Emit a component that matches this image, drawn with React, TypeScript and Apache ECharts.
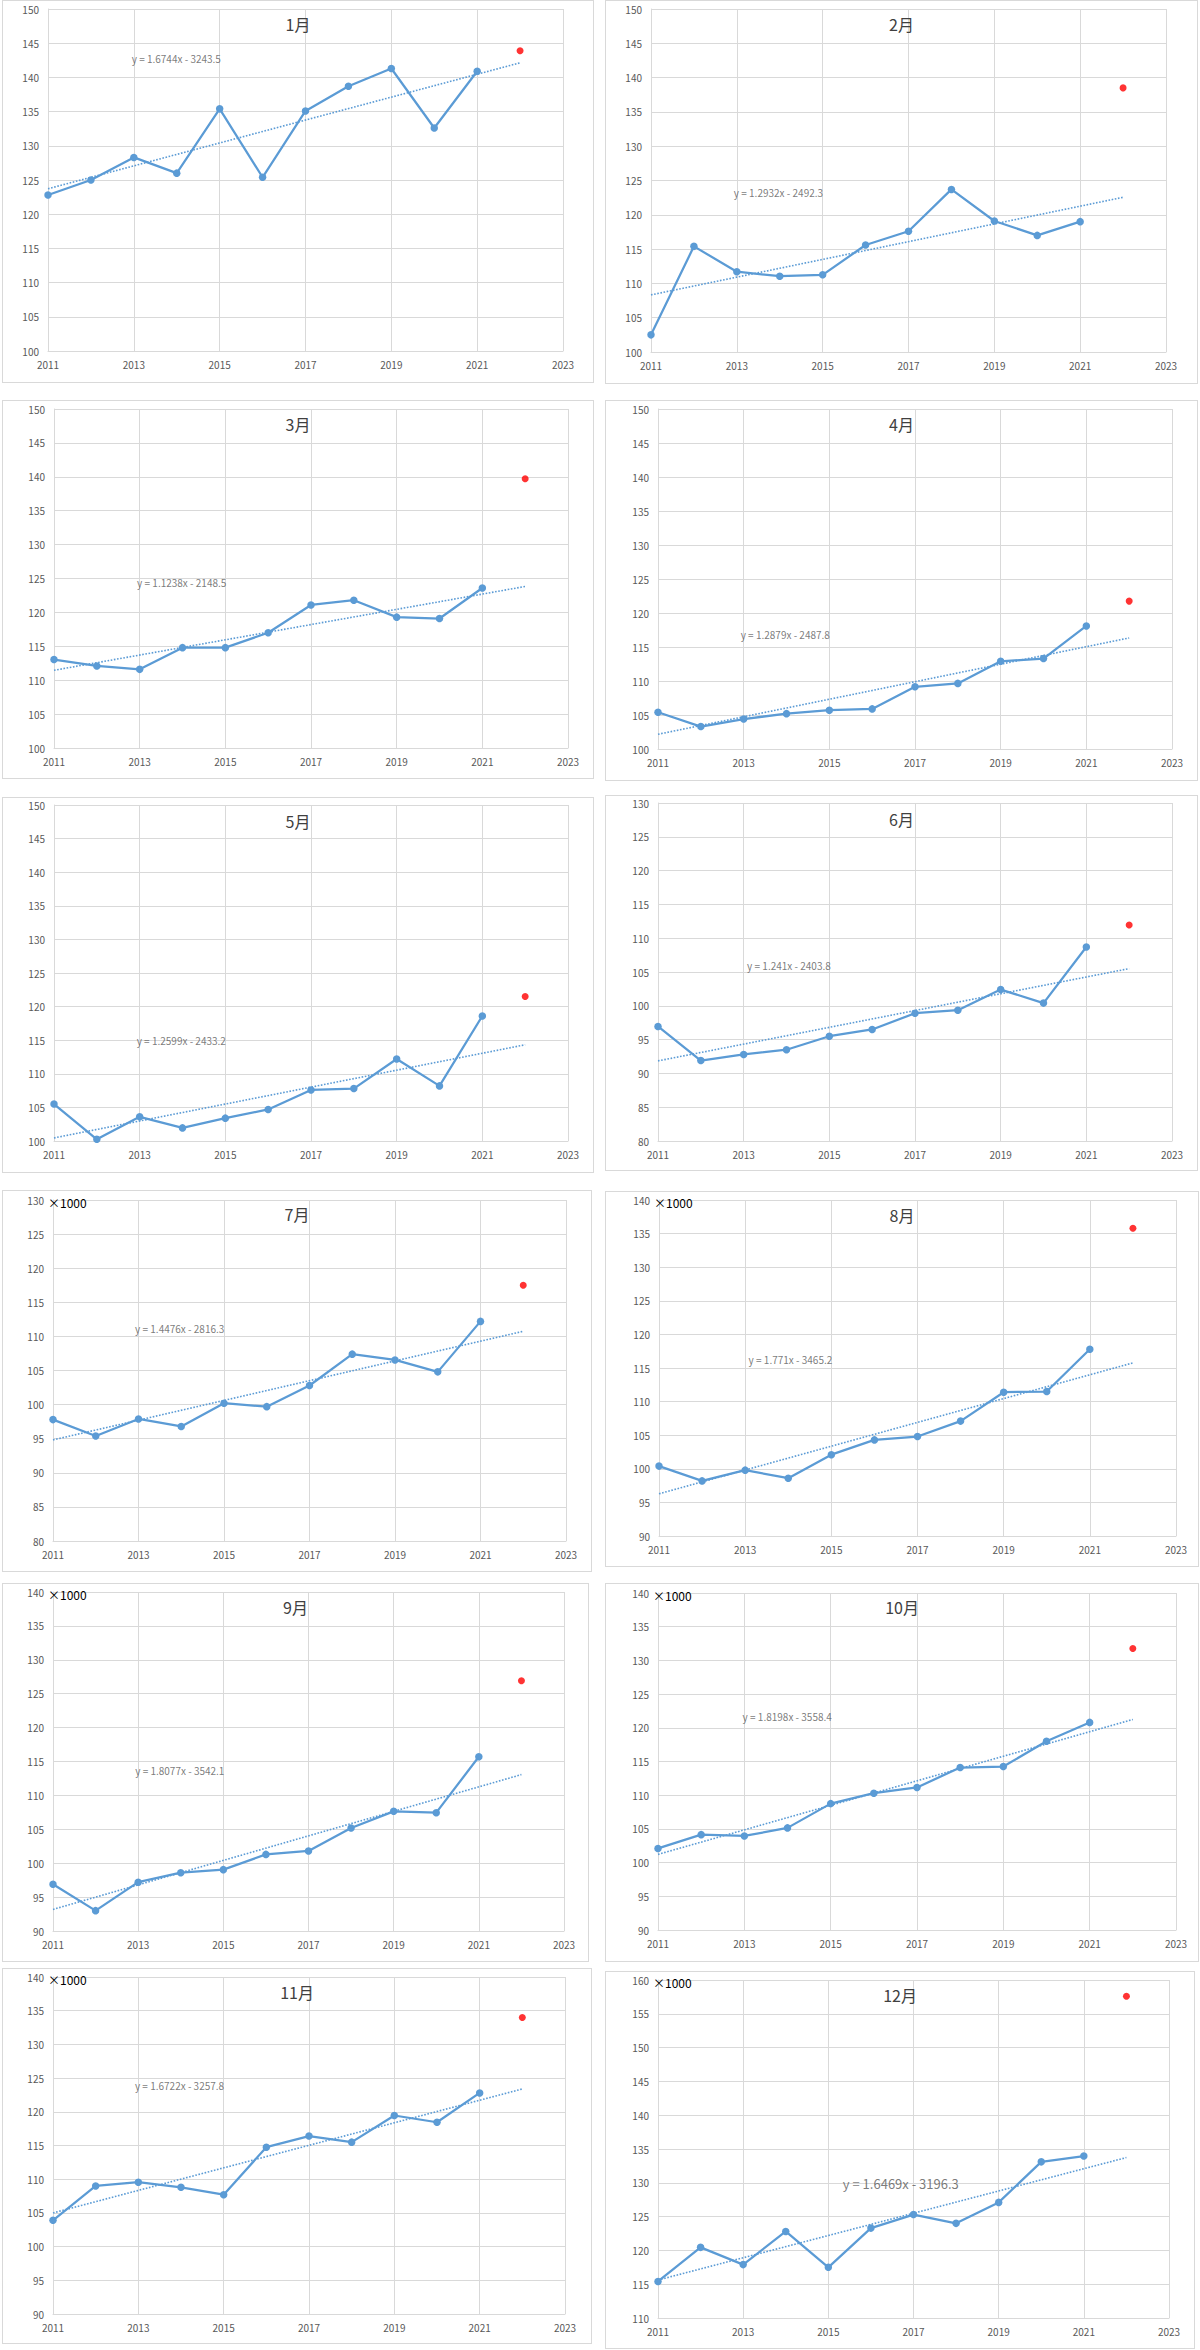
import React, { useEffect, useRef } from "react";
import * as echarts from "echarts";

// ---------------- DATA ----------------
const BASE_YEAR = 2011;
const years = [2011, 2012, 2013, 2014, 2015, 2016, 2017, 2018, 2019, 2020, 2021];
const forecastYear = 2022;
const monthTitles = ["1月", "2月", "3月", "4月", "5月", "6月", "7月", "8月", "9月", "10月", "11月", "12月"];

const jan = [122.8, 125.0, 128.3, 126.0, 135.4, 125.4, 135.1, 138.7, 141.3, 132.6, 140.9];
const feb = [102.5, 115.4, 111.7, 111.05, 111.25, 115.6, 117.6, 123.7, 119.1, 117.0, 119.0];
const mar = [113.05, 112.1, 111.6, 114.8, 114.8, 117.0, 121.1, 121.8, 119.3, 119.1, 123.6];
const apr = [105.4, 103.3, 104.4, 105.2, 105.7, 105.9, 109.15, 109.65, 112.9, 113.3, 118.1];
const may = [105.5, 100.25, 103.6, 101.95, 103.4, 104.7, 107.6, 107.8, 112.2, 108.2, 118.6];
const jun = [96.95, 91.9, 92.8, 93.5, 95.5, 96.5, 98.9, 99.35, 102.4, 100.4, 108.7];
const jul = [97.8, 95.4, 97.9, 96.8, 100.2, 99.7, 102.8, 107.4, 106.55, 104.8, 112.2];
const aug = [100.4, 98.2, 99.8, 98.6, 102.1, 104.3, 104.8, 107.1, 111.4, 111.5, 117.8];
const sep = [96.9, 93.0, 97.2, 98.6, 99.05, 101.3, 101.8, 105.2, 107.65, 107.45, 115.7];
const oct = [102.1, 104.15, 103.95, 105.15, 108.75, 110.3, 111.15, 114.1, 114.25, 118.0, 120.8];
const nov = [103.9, 109.0, 109.55, 108.8, 107.7, 114.75, 116.4, 115.5, 119.45, 118.45, 122.8];
const dec = [115.4, 120.45, 117.9, 122.8, 117.5, 123.3, 125.3, 124.0, 127.1, 133.1, 133.96];
const monthlyValues = [jan, feb, mar, apr, may, jun, jul, aug, sep, oct, nov, dec];

const forecastValues = [143.9, 138.5, 139.7, 121.75, 121.5, 111.96, 117.5, 135.8, 126.9, 131.76, 133.98, 157.6];

const trendSlopes = [1.6744, 1.2932, 1.1238, 1.2879, 1.2599, 1.241, 1.4476, 1.771, 1.8077, 1.8198, 1.6722, 1.6469];
const trendIntercepts = [-3243.5, -2492.3, -2148.5, -2487.8, -2433.2, -2403.8, -2816.3, -3465.2, -3542.1, -3558.4, -3257.8, -3196.3];

const yMins = [100, 100, 100, 100, 100, 80, 80, 90, 90, 90, 90, 110];
const yMaxs = [150, 150, 150, 150, 150, 130, 130, 140, 140, 140, 140, 160];
const yInterval = 5;
const xMin = 2011;
const xMax = 2023;
const xInterval = 2;
const showThousands = [false, false, false, false, false, false, true, true, true, true, true, true];
const unitLabel = "×1000";

// ---------------- LAYOUT ----------------
const panelRects = [
  { x: 2, y: 0, w: 592, h: 383 },
  { x: 605, y: 0, w: 593, h: 384 },
  { x: 2, y: 400, w: 592, h: 379 },
  { x: 605, y: 400, w: 593, h: 381 },
  { x: 2, y: 797, w: 592, h: 376 },
  { x: 605, y: 795, w: 593, h: 376 },
  { x: 2, y: 1190, w: 590, h: 382 },
  { x: 605, y: 1191, w: 594, h: 376 },
  { x: 2, y: 1583, w: 587, h: 379 },
  { x: 605, y: 1583, w: 594, h: 379 },
  { x: 2, y: 1968, w: 590, h: 376 },
  { x: 605, y: 1971, w: 590, h: 378 },
];
const gridLefts = [46, 46, 52, 53, 52, 53, 51, 54, 51, 53, 51, 53];
const gridRights = [31, 32, 26, 26, 26, 26, 26, 23, 25, 23, 27, 26];
const gridTops = [9, 9, 9, 9, 8, 8, 10, 9, 9, 10, 9, 9];
const gridBottoms = [32, 32, 31, 32, 32, 30, 31, 31, 31, 32, 30, 31];
const eqAnchors = [
  [2012.95, 142.7],
  [2012.93, 123.3],
  [2012.94, 124.4],
  [2012.93, 116.8],
  [2012.93, 114.9],
  [2013.08, 105.95],
  [2012.92, 111.2],
  [2013.08, 116.3],
  [2012.93, 113.7],
  [2012.96, 121.7],
  [2012.92, 123.9],
  [2015.34, 129.85],
];
const eqFontSizes = [10, 10, 10, 10, 10, 10, 10, 10, 10, 10, 10, 13];

const FONT = '"Noto Sans CJK JP", "Noto Sans", sans-serif';
const BLUE = "#5B9BD5";
const GRID_COLOR = "#d9d9d9";
const LABEL_COLOR = "#595959";

function buildOption(i: number) {
  const vals = monthlyValues[i];
  const a = trendSlopes[i];
  const b = trendIntercepts[i];
  const eqText = `y = ${a}x - ${Math.abs(b)}`;
  const graphic: any[] = [];
  if (showThousands[i]) {
    graphic.push({
      type: "text",
      x: gridLefts[i] - 5,
      y: gridTops[i] + 2,
      silent: true,
      style: {
        text: unitLabel,
        fontSize: 12,
        fontFamily: FONT,
        fill: "#000000",
        verticalAlign: "middle",
        align: "left",
      },
      z: 100,
    });
  }
  return {
    animation: false,
    textStyle: { fontFamily: FONT },
    title: {
      text: monthTitles[i],
      left: "center",
      top: 11,
      textStyle: { fontSize: 16, fontWeight: "normal", color: "#404040", fontFamily: FONT },
    },
    grid: {
      left: gridLefts[i],
      right: gridRights[i],
      top: gridTops[i],
      bottom: gridBottoms[i],
      containLabel: false,
    },
    xAxis: {
      type: "value",
      min: xMin - BASE_YEAR,
      max: xMax - BASE_YEAR,
      interval: xInterval,
      axisLabel: {
        formatter: (v: number) => String(v + BASE_YEAR),
        color: LABEL_COLOR,
        fontSize: 10,
        margin: 8,
        fontFamily: FONT,
      },
      axisLine: { show: true, lineStyle: { color: GRID_COLOR, width: 1 } },
      axisTick: { show: false },
      splitLine: { show: true, lineStyle: { color: GRID_COLOR, width: 1 } },
    },
    yAxis: {
      type: "value",
      min: yMins[i],
      max: yMaxs[i],
      interval: yInterval,
      axisLabel: { color: LABEL_COLOR, fontSize: 10, margin: 9, fontFamily: FONT },
      axisLine: { show: true, lineStyle: { color: GRID_COLOR, width: 1 } },
      axisTick: { show: false },
      splitLine: { show: true, lineStyle: { color: GRID_COLOR, width: 1 } },
    },
    graphic,
    series: [
      {
        type: "line",
        data: [
          [years[0] - BASE_YEAR, a * years[0] + b],
          [forecastYear - BASE_YEAR, a * forecastYear + b],
        ],
        symbol: "none",
        silent: true,
        lineStyle: { color: BLUE, width: 1.6, type: [1.6, 1.6] },
        z: 3,
      },
      {
        type: "line",
        data: years.map((y, k) => [y - BASE_YEAR, vals[k]]),
        symbol: "circle",
        symbolSize: 7.5,
        itemStyle: { color: BLUE },
        lineStyle: { color: BLUE, width: 2.25 },
        z: 4,
      },
      {
        type: "scatter",
        data: [[forecastYear - BASE_YEAR, forecastValues[i]]],
        symbol: "circle",
        symbolSize: 7,
        itemStyle: { color: "#FF0000" },
        z: 5,
      },
      {
        type: "scatter",
        data: [[eqAnchors[i][0] - BASE_YEAR, eqAnchors[i][1]]],
        symbolSize: 0,
        silent: true,
        label: {
          show: true,
          position: "right",
          distance: 0,
          formatter: eqText,
          color: LABEL_COLOR,
          fontSize: eqFontSizes[i],
          fontFamily: FONT,
        },
        z: 6,
      },
    ],
  };
}

function Panel({ index }: { index: number }) {
  const ref = useRef<HTMLDivElement | null>(null);
  const rect = panelRects[index];
  useEffect(() => {
    if (!ref.current) return;
    const chart = echarts.init(ref.current, undefined, { renderer: "svg" });
    chart.setOption(buildOption(index) as any);
    return () => chart.dispose();
  }, [index]);
  return (
    <div
      style={{
        position: "absolute",
        left: rect.x,
        top: rect.y,
        width: rect.w,
        height: rect.h,
        boxSizing: "border-box",
        border: "1px solid #d9d9d9",
        background: "#ffffff",
      }}
    >
      <div ref={ref} style={{ position: "absolute", left: -1, top: -1, width: rect.w, height: rect.h }} />
    </div>
  );
}

export default function App() {
  useEffect(() => {
    document.body.style.margin = "0";
    document.body.style.background = "#ffffff";
  }, []);
  return (
    <div style={{ position: "relative", width: 1200, height: 2350, background: "#ffffff", overflow: "hidden" }}>
      {monthTitles.map((_, i) => (
        <Panel key={i} index={i} />
      ))}
    </div>
  );
}
